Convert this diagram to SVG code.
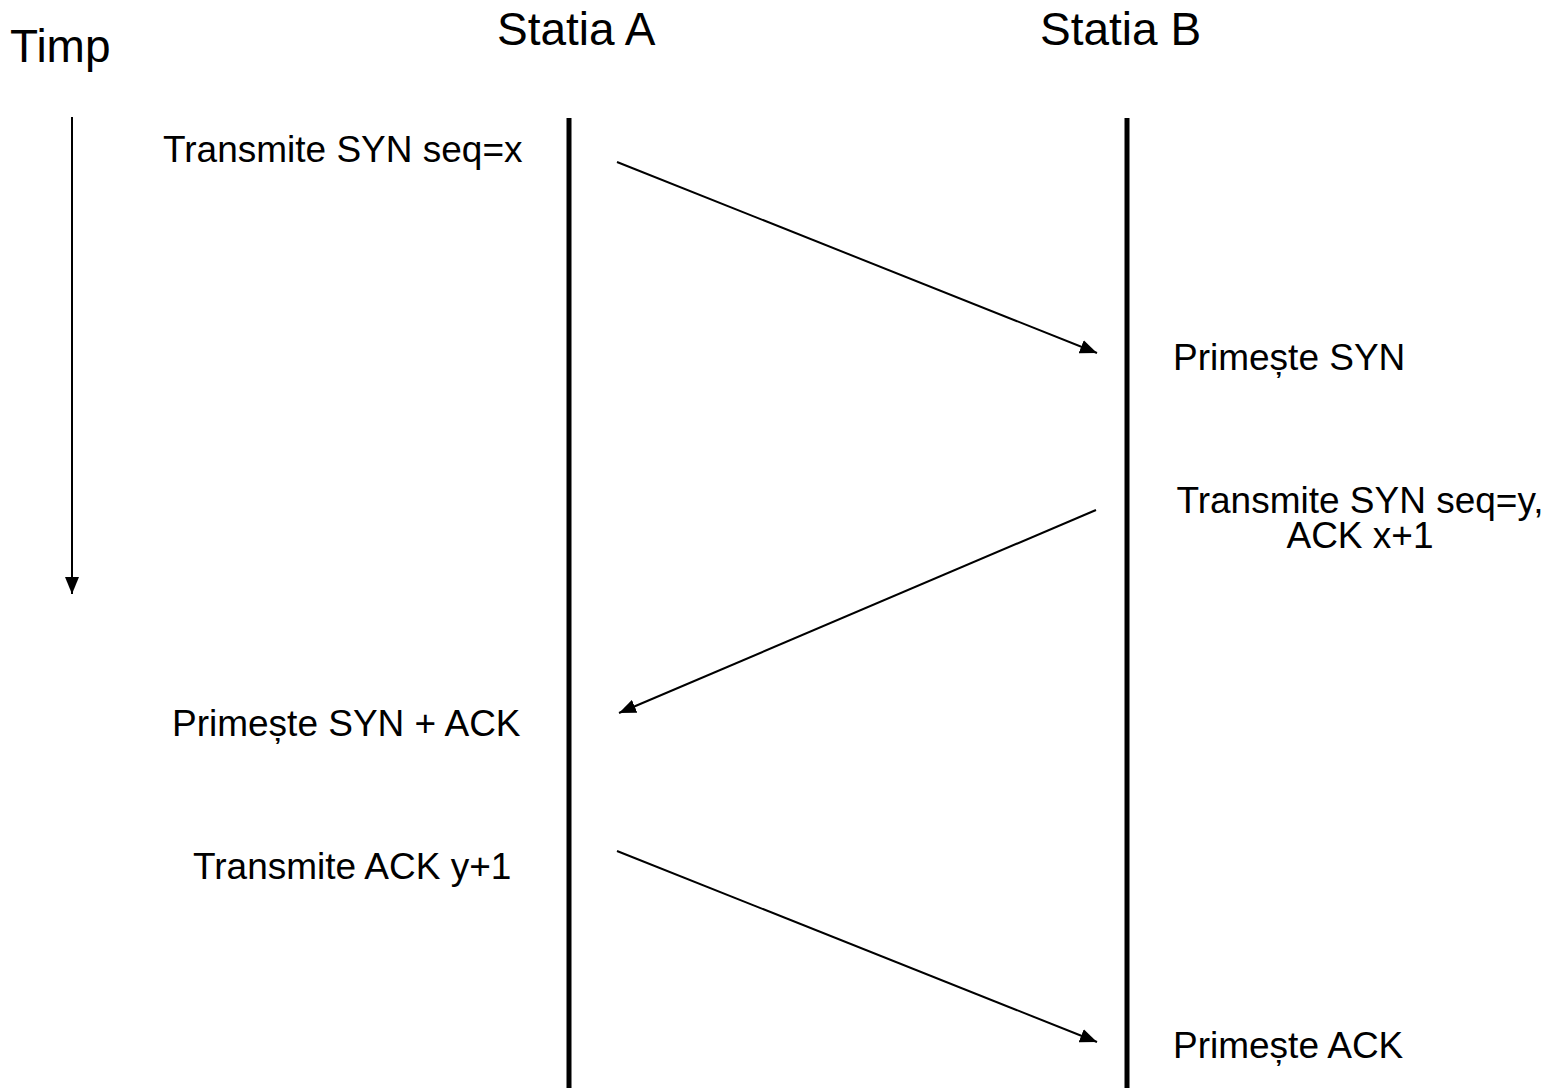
<svg xmlns="http://www.w3.org/2000/svg" width="1552" height="1088" viewBox="0 0 1552 1088">
<style>
.t{font-family:"Liberation Sans",Arial,sans-serif;fill:#000}
.big{font-size:46px}
.sm{font-size:37px}
.life{stroke:#000;stroke-width:5;fill:none}
.msg{stroke:#000;stroke-width:2;fill:none;marker-end:url(#ah)}
</style>
<defs>
<marker id="ah" markerUnits="userSpaceOnUse" markerWidth="18" markerHeight="14" refX="17" refY="7" orient="auto">
<path d="M0,0 L17,7 L0,14 z" fill="#000"/>
</marker>
</defs>
<rect width="1552" height="1088" fill="#fff"/>
<g id="timp">
<text class="t big" x="10" y="62">Timp</text>
</g>
<g id="statiaA">
<text class="t big" x="497" y="45">Statia A</text>
<line class="life" x1="569" y1="118" x2="569" y2="1088"/>
</g>
<g id="statiaB">
<text class="t big" x="1040" y="45">Statia B</text>
<line class="life" x1="1127" y1="118" x2="1127" y2="1088"/>
</g>
<g id="labels">
<text class="t sm" x="163" y="162">Transmite SYN seq=x</text>
<text class="t sm" x="1173" y="370">Primește SYN</text>
<text class="t sm" x="1360" y="513" text-anchor="middle">Transmite SYN seq=y,</text>
<text class="t sm" x="1360" y="548" text-anchor="middle">ACK x+1</text>
<text class="t sm" x="172" y="736">Primește SYN + ACK</text>
<text class="t sm" x="193" y="879">Transmite ACK y+1</text>
<text class="t sm" x="1173" y="1058">Primește ACK</text>
</g>
<g id="connectors">
<line class="msg" x1="72" y1="117" x2="72" y2="594"/>
<line class="msg" x1="617" y1="162" x2="1097" y2="353"/>
<line class="msg" x1="1096" y1="510" x2="619" y2="713"/>
<line class="msg" x1="617" y1="851" x2="1097" y2="1042"/>
</g>
</svg>
